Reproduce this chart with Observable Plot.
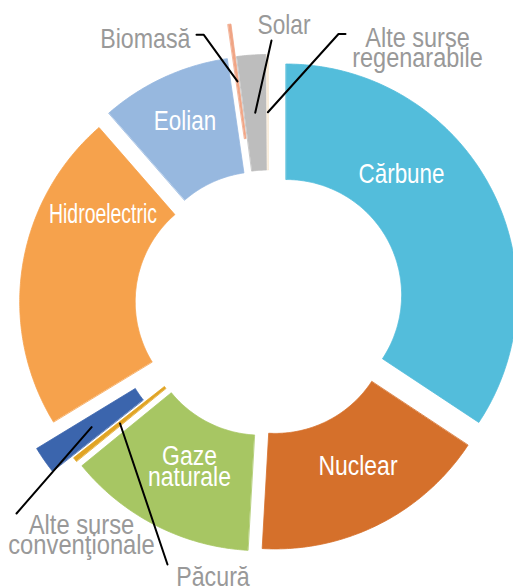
<!DOCTYPE html>
<html><head><meta charset="utf-8">
<script src="https://cdn.jsdelivr.net/npm/d3@7"></script>
<script src="https://cdn.jsdelivr.net/npm/@observablehq/plot@0.6"></script>
<style>html,body{margin:0;padding:0;background:#fff}</style>
</head><body><div id="chart"></div>
<script>
// ---- data ----
const categories = ["Cărbune","Nuclear","Gaze naturale","Păcură","Alte surse convenţionale","Hidroelectric","Eolian","Biomasă","Solar","Alte surse regenerabile"];
const shares = [34.3, 16.6, 13.2, 0.3, 1.9, 22.3, 9.1, 0.2, 2.0, 0.1];
const labelTexts = ["Cărbune","Nuclear","Gaze\nnaturale","Păcură","Alte surse\nconvenţionale","Hidroelectric","Eolian","Biomasă","Solar","Alte surse\nregenarabile"];

// ---- style / layout ----
const colors = ["#53BDDB","#D5702B","#A7C663","#E1A424","#3B65AD","#F6A24C","#97B8DF","#F0A585","#BDBDBD","#F7E9D4"];
const explode = [20, 15, 17, 17, 42, 18, 19, 52, 19, 19];
const inside = [true,true,true,false,false,true,true,false,false,false];
const condense = [0.83, 0.85, 0.85, 0.86, 0.88, 0.72, 0.83, 0.86, 0.84, 0.87];
const W = 513, H = 588, CX = 268, CY = 304, R_OUT = 231, R_IN = 115.5;
const R_MID = (R_OUT + R_IN) / 2;
const labelAt = [[401,182.5],[357.5,474],[189,485.7],[212.5,585.5],[81,553.3],[102.5,222],[184.5,129.5],[190,47.5],[283.5,33],[417,66.7]];
const labelAnchor = ["middle","middle","middle","middle","middle","middle","middle","end","middle","middle"];
const leaderFrom = {3: [[167,564]], 4: [[16,513]], 7: [[196,34.3],[203.3,34.3]], 8: [[271,40]], 9: [[345,33.5],[338,33.5]]};
const FONT = "'Liberation Sans', Arial, sans-serif";
const FS = 27;

// ---- geometry from data ----
const arcs = d3.pie().sort(null).value(d => d)(shares);
const polys = [];
const leaders = [];
arcs.forEach((a, i) => {
  const mid = (a.startAngle + a.endAngle) / 2;
  const ox = CX + explode[i] * Math.sin(mid), oy = CY - explode[i] * Math.cos(mid);
  const n = Math.max(2, Math.ceil((a.endAngle - a.startAngle) / 0.01));
  for (let k = 0; k <= n; k++) {
    const t = a.startAngle + (a.endAngle - a.startAngle) * k / n;
    polys.push({name: categories[i], x: ox + R_OUT * Math.sin(t), y: oy - R_OUT * Math.cos(t)});
  }
  for (let k = n; k >= 0; k--) {
    const t = a.startAngle + (a.endAngle - a.startAngle) * k / n;
    polys.push({name: categories[i], x: ox + R_IN * Math.sin(t), y: oy - R_IN * Math.cos(t)});
  }
  if (leaderFrom[i]) {
    leaderFrom[i].forEach(p => leaders.push({name: categories[i], x: p[0], y: p[1]}));
    leaders.push({name: categories[i], x: ox + R_MID * Math.sin(mid), y: oy - R_MID * Math.cos(mid)});
  }
});
const labels = categories.map((c, i) => ({name: c, text: labelTexts[i], x: labelAt[i][0], y: labelAt[i][1], inside: inside[i], anchor: labelAnchor[i]}));

const chart = Plot.plot({
  width: W, height: H, margin: 0,
  x: {domain: [0, W], range: [0, W], axis: null},
  y: {domain: [0, H], range: [0, H], axis: null},
  color: {domain: categories, range: colors},
  style: {fontFamily: FONT, background: "#fff"},
  marks: [
    Plot.line(polys, {x: "x", y: "y", z: "name", fill: "name", stroke: "name", strokeWidth: 0.8, curve: "linear-closed"}),
    Plot.line(leaders, {x: "x", y: "y", z: "name", stroke: "#000", strokeWidth: 2}),
    Plot.text(labels.filter(d => d.inside), {x: "x", y: "y", text: "text", fill: "#fff", fontSize: FS, fontFamily: FONT, lineAnchor: "bottom", lineHeight: 0.79, textAnchor: "middle"}),
    Plot.text(labels.filter(d => !d.inside && d.anchor === "middle"), {x: "x", y: "y", text: "text", fill: "#999", fontSize: FS, fontFamily: FONT, lineAnchor: "bottom", lineHeight: 0.74, textAnchor: "middle"}),
    Plot.text(labels.filter(d => !d.inside && d.anchor === "end"), {x: "x", y: "y", text: "text", fill: "#999", fontSize: FS, fontFamily: FONT, lineAnchor: "bottom", lineHeight: 0.74, textAnchor: "end"})
  ]
});
// condensed type: squeeze each label horizontally around its anchor
const condenseByText = new Map(labelTexts.map((t, i) => [t.replace(/\n/g, ""), condense[i]]));
d3.select(chart).selectAll("text").each(function() {
  const sx = condenseByText.get(this.textContent.replace(/\n/g, ""));
  const tr = this.getAttribute("transform");
  if (sx && tr) this.setAttribute("transform", tr + ` scale(${sx},1)`);
});
document.getElementById("chart").appendChild(chart);
</script>
</body></html>
